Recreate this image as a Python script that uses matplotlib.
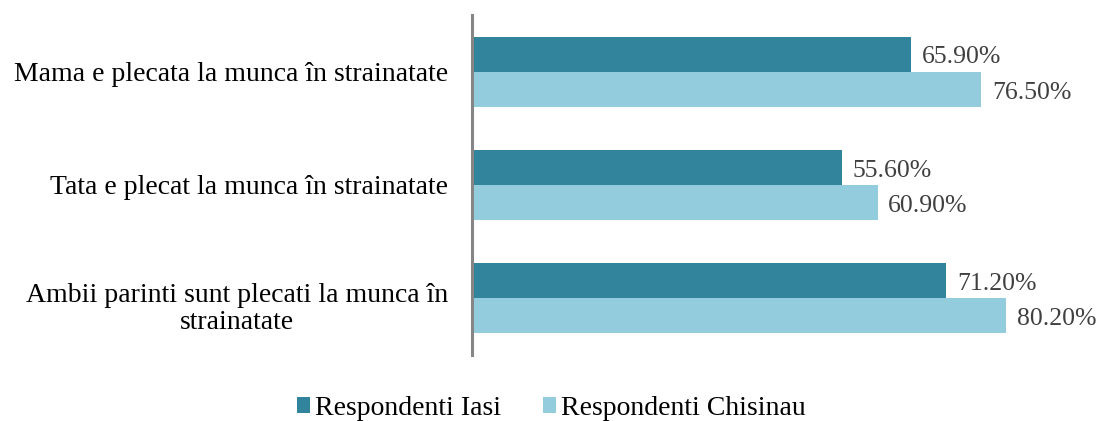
import matplotlib.pyplot as plt
import matplotlib.transforms as mtransforms
import numpy as np

categories = ['Mama e plecata la munca în strainatate',
              'Tata e plecat la munca în strainatate',
              'Ambii parinti sunt plecati la munca în\nstrainatate']
iasi = [65.9, 55.6, 71.2]
chisinau = [76.5, 60.9, 80.2]
series_names = ['Respondenti Iasi', 'Respondenti Chisinau']

plt.rcParams['font.family'] = ['Liberation Serif', 'DejaVu Serif']

fig = plt.figure(figsize=(10.96, 4.21), dpi=100)
ax = fig.add_axes([0.4307, 0.1568, 0.5693, 0.8076])

y = np.arange(len(categories))
h = 0.31
b1 = ax.barh(y - h / 2, iasi, height=h, color='#31849B', label=series_names[0])
b2 = ax.barh(y + h / 2, chisinau, height=h, color='#93CDDD', label=series_names[1])

for bars, vals in ((b1, iasi), (b2, chisinau)):
    for bar, v in zip(bars, vals):
        ax.text(v + 1.6, bar.get_y() + bar.get_height() / 2 + 0.03, f'{v:.2f}%',
                va='center', ha='left', fontsize=18.5, color='#404040')

ax.set_xlim(0, 93.7)
ax.set_ylim(2.5, -0.5)
ax.set_xticks([])
ax.set_yticks(y)
ax.set_yticklabels(categories, fontsize=20, multialignment='center', linespacing=1.1)
ax.tick_params(axis='y', length=0, pad=17)
# nudge the two-line label down a little, as in the original
lbl = ax.get_yticklabels()[2]
lbl.set_transform(lbl.get_transform() + mtransforms.ScaledTranslation(0, -0.07, fig.dpi_scale_trans))
for s in ['top', 'right', 'bottom']:
    ax.spines[s].set_visible(False)
ax.spines['left'].set_color('#868686')
ax.spines['left'].set_linewidth(2.2)

fig.legend(handles=[b1, b2], loc='center', bbox_to_anchor=(0.503, 0.03), ncol=2,
           frameon=False, fontsize=20, handlelength=0.47, handleheight=0.47,
           handletextpad=0.18, columnspacing=1.5, borderpad=0)

fig.savefig('out.png', dpi=100)
